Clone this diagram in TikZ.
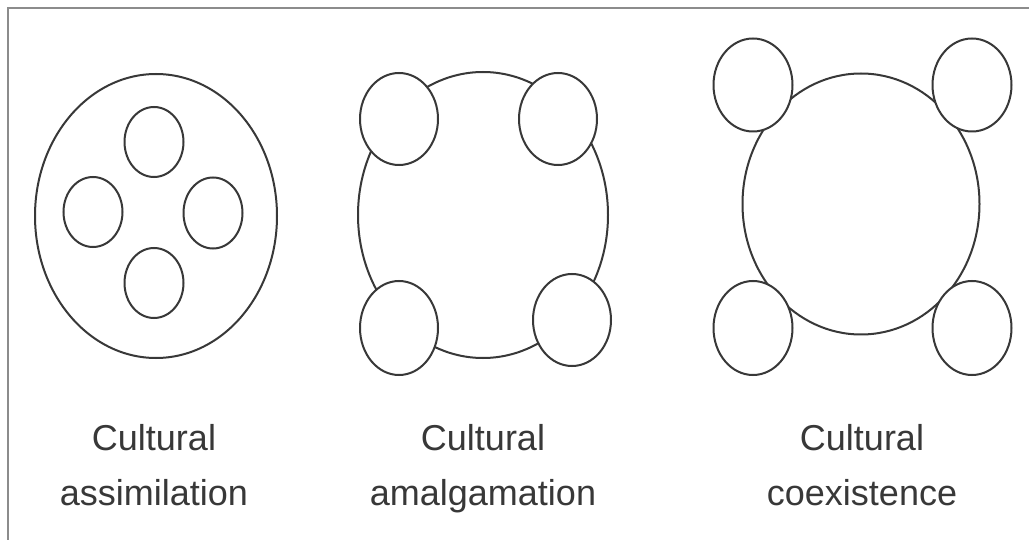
\documentclass[tikz,border=0pt]{standalone}
\usepackage{fontspec}
\setmainfont{Liberation Sans}
\usetikzlibrary{shapes.geometric}
\definecolor{cink}{HTML}{383838}
\definecolor{cframe}{HTML}{8C8C8C}
\tikzset{
  every picture/.style={line width=2pt},
  group/.style={ellipse, draw=cink, fill=white, inner sep=0pt, minimum width=#1},
  member/.style={ellipse, draw=cink, fill=white, inner sep=0pt, minimum width=#1},
  member/.default=78pt,
  caption/.style={text=cink, align=center, anchor=north, inner sep=0pt, font=\fontsize{36}{55}\selectfont},
}
\begin{document}
\begin{tikzpicture}[x=1pt, y=-1pt]
  \useasboundingbox (0,0) rectangle (1029,540);
  \fill[white] (0,0) rectangle (1029,540);
  % frame, top and left edge
  \coordinate (fr) at (1029,8);
  \coordinate (fc) at (8,8);
  \coordinate (fb) at (8,540);
  \draw[cframe, line width=2.5pt] (fr) -- (fc) -- (fb);
  % left: assimilation
  \node[group=242pt, minimum height=284pt] (asm) at (156,216) {};
  \node[member=59pt, minimum height=70pt] (asm1) at (154,142) {};
  \node[member=59pt, minimum height=70pt] (asm2) at (93,212) {};
  \node[member=59pt, minimum height=71pt] (asm3) at (213,213) {};
  \node[member=59pt, minimum height=70pt] (asm4) at (154,283) {};
  \node[caption] (asmtxt) at (154,423) {Cultural\\assimilation};
  % middle: amalgamation
  \node[group=250pt, minimum height=286pt] (amg) at (483,215) {};
  \node[member, minimum height=92pt] (amg1) at (399,119) {};
  \node[member, minimum height=92pt] (amg2) at (558,119) {};
  \node[member, minimum height=94pt] (amg3) at (399,328) {};
  \node[member, minimum height=92pt] (amg4) at (572,320) {};
  \node[caption] (amgtxt) at (483,423) {Cultural\\amalgamation};
  % right: coexistence
  \node[group=237pt, minimum height=261pt] (coe) at (861,204) {};
  \node[member=79pt, minimum height=93pt] (coe1) at (753,85) {};
  \node[member=79pt, minimum height=93pt] (coe2) at (972,85) {};
  \node[member=79pt, minimum height=94pt] (coe3) at (753,328) {};
  \node[member=79pt, minimum height=94pt] (coe4) at (972,328) {};
  \node[caption] (coetxt) at (862,423) {Cultural\\coexistence};
\end{tikzpicture}
\end{document}
